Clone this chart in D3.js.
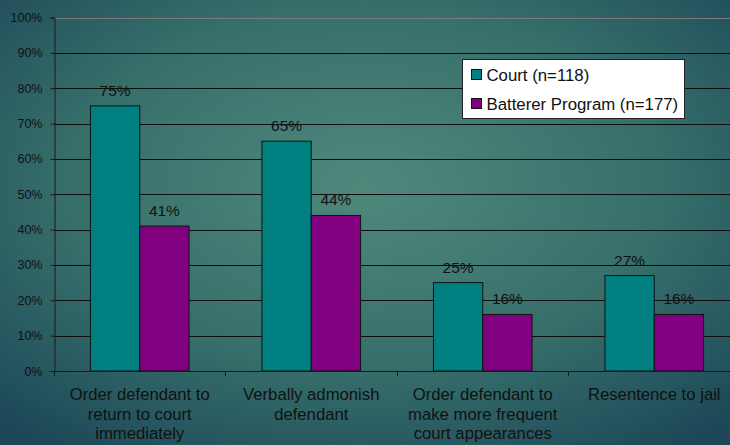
<!DOCTYPE html>
<html>
<head>
<meta charset="utf-8">
<script src="https://cdn.jsdelivr.net/npm/d3@7"></script>
<style>
  body { margin: 0; overflow: hidden; }
  .chart { width: 730px; height: 445px; }
  text { font-family: "Liberation Sans", Arial, sans-serif; fill: #111; }
</style>
</head>
<body>
<div class="chart"></div>
<script>
// Chart data
const categories = [
  ["Order defendant to", "return to court", "immediately"],
  ["Verbally admonish", "defendant"],
  ["Order defendant to", "make more frequent", "court appearances"],
  ["Resentence to jail"]
];
const seriesNames = ["Court (n=118)", "Batterer Program (n=177)"];
const courtValues = [75, 65, 25, 27];
const programValues = [41, 44, 16, 16];
const yTicks = [0, 10, 20, 30, 40, 50, 60, 70, 80, 90, 100];
const seriesColors = ["#008080", "#800080"];

const width = 730;
const height = 445;

const svg = d3
  .select(".chart")
  .append("svg")
  .attr("width", width)
  .attr("height", height);

// Background gradient
const defs = svg.append("defs");
const grad = defs
  .append("radialGradient")
  .attr("id", "bg")
  .attr("cx", "50%")
  .attr("cy", "42%")
  .attr("r", "72%");
grad.append("stop").attr("offset", "0%").attr("stop-color", "#4f887b");
grad.append("stop").attr("offset", "55%").attr("stop-color", "#37706b");
grad.append("stop").attr("offset", "100%").attr("stop-color", "#1d4858");

svg
  .append("rect")
  .attr("width", width)
  .attr("height", height)
  .attr("fill", "url(#bg)");

const catKeys = categories.map((c) => c.join(" "));

const x0 = d3
  .scaleBand()
  .domain(catKeys)
  .range([54, 740])
  .paddingInner(0.425)
  .paddingOuter(0.2125);

const x1 = d3
  .scaleBand()
  .domain(seriesNames)
  .range([0, x0.bandwidth()]);

const y = d3.scaleLinear().domain([0, 100]).range([371, 17.5]);

// Gridlines
svg
  .selectAll(".grid")
  .data(yTicks.filter((d) => d > 0))
  .enter()
  .append("line")
  .attr("x1", 54)
  .attr("x2", width)
  .attr("y1", (d) => Math.round(y(d)) + 0.5)
  .attr("y2", (d) => Math.round(y(d)) + 0.5)
  .attr("stroke", (d) => (d === 100 ? "#7a7a7a" : "#0d0d0d"))
  .attr("stroke-width", 1);

// Y axis
const yAxis = svg
  .append("g")
  .attr("transform", "translate(54.5,0)")
  .call(
    d3
      .axisLeft(y)
      .tickValues(yTicks)
      .tickFormat((d) => d + "%")
      .tickSize(4)
      .tickPadding(8)
  );
yAxis.select(".domain").attr("stroke", "#1a1a1a");
yAxis.selectAll(".tick line").attr("stroke", "#1a1a1a");
yAxis
  .selectAll(".tick text")
  .style("font-family", '"Liberation Sans", Arial, sans-serif')
  .style("font-size", "12.5px")
  .attr("fill", "#111");

// Bars
const rows = catKeys.map((k, i) => ({
  key: k,
  values: [
    { name: seriesNames[0], value: courtValues[i], color: seriesColors[0] },
    { name: seriesNames[1], value: programValues[i], color: seriesColors[1] },
  ],
}));

const groups = svg
  .selectAll(".group")
  .data(rows)
  .enter()
  .append("g")
  .attr("transform", (d) => `translate(${x0(d.key)},0)`);

groups
  .selectAll("rect")
  .data((d) => d.values)
  .enter()
  .append("rect")
  .attr("x", (d) => x1(d.name))
  .attr("y", (d) => y(d.value))
  .attr("width", x1.bandwidth())
  .attr("height", (d) => y(0) - y(d.value))
  .attr("fill", (d) => d.color)
  .attr("stroke", "#111")
  .attr("stroke-width", 1);

groups
  .selectAll(".val")
  .data((d) => d.values)
  .enter()
  .append("text")
  .attr("x", (d) => x1(d.name) + x1.bandwidth() / 2)
  .attr("y", (d) => y(d.value) - 10)
  .attr("text-anchor", "middle")
  .style("font-size", "15.5px")
  .text((d) => d.value + "%");

// X axis line and ticks
svg
  .append("line")
  .attr("x1", 50)
  .attr("x2", width)
  .attr("y1", 371.5)
  .attr("y2", 371.5)
  .attr("stroke", "#1a1a1a");

const step = x0.step();
svg
  .selectAll(".xtick")
  .data(catKeys)
  .enter()
  .append("line")
  .attr("x1", (d) => Math.round(x0(d) - (step - x0.bandwidth()) / 2) + 0.5)
  .attr("x2", (d) => Math.round(x0(d) - (step - x0.bandwidth()) / 2) + 0.5)
  .attr("y1", 371)
  .attr("y2", 376)
  .attr("stroke", "#1a1a1a");

// Category labels
svg
  .selectAll(".cat")
  .data(categories)
  .enter()
  .append("text")
  .attr("text-anchor", "middle")
  .style("font-size", "16.7px")
  .each(function (lines, i) {
    const cx = x0(catKeys[i]) + x0.bandwidth() / 2;
    d3.select(this)
      .selectAll("tspan")
      .data(lines)
      .enter()
      .append("tspan")
      .attr("x", cx)
      .attr("y", (d, j) => 400 + j * 19.5)
      .text((d) => d);
  });

// Legend
const legend = svg.append("g").attr("transform", "translate(462.5,59.5)");
legend
  .append("rect")
  .attr("width", 222)
  .attr("height", 59)
  .attr("fill", "#ffffff")
  .attr("stroke", "#222");

seriesNames.forEach((name, i) => {
  legend
    .append("rect")
    .attr("x", 9)
    .attr("y", 10 + i * 29)
    .attr("width", 10)
    .attr("height", 10)
    .attr("fill", seriesColors[i])
    .attr("stroke", "#111");
  legend
    .append("text")
    .attr("x", 24)
    .attr("y", 21 + i * 29)
    .style("font-size", "16.8px")
    .text(name);
});
</script>
</body>
</html>
